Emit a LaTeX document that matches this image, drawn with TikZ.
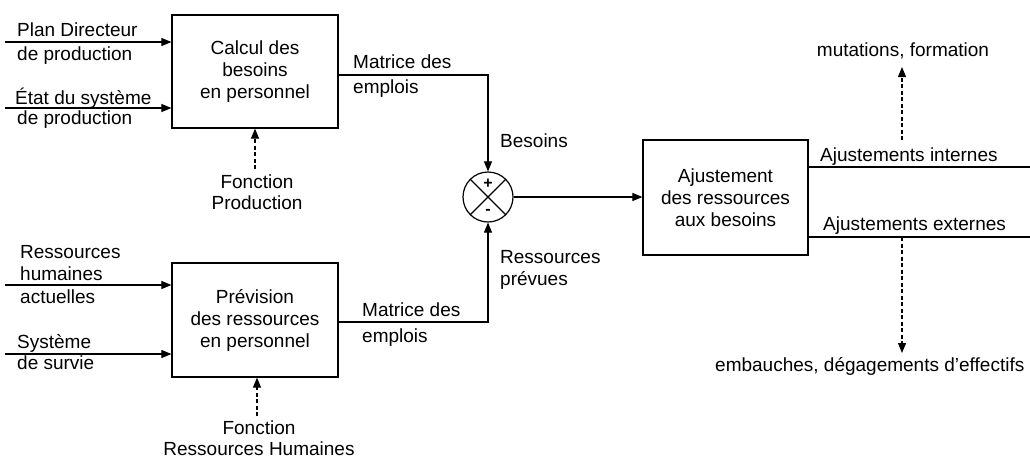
\documentclass[tikz,border=0pt]{standalone}
\usepackage{fontspec}
\setmainfont{Liberation Sans}
\usetikzlibrary{arrows.meta}
\begin{document}
\begin{tikzpicture}[x=1pt,y=-1pt,
  font=\fontsize{19}{22}\selectfont,
  every node/.style={inner sep=0pt},
  procbox/.style={draw, line width=1.2pt, minimum width=166pt, minimum height=113pt, align=center},
  lbl/.style={anchor=base west},
  clbl/.style={anchor=base},
  flow/.style={line width=1.1pt, -{Triangle[length=10pt,width=8pt]}},
  plain/.style={line width=1.1pt},
  dflow/.style={line width=1.1pt, dash pattern=on 4pt off 2.5pt, -{Triangle[length=10pt,width=8pt]}},
  sign/.style={font=\fontsize{16}{16}\selectfont\bfseries},
]
\fill[white] (0,0) rectangle (1030,459);
\useasboundingbox (0,0) rectangle (1030,459);

% boxes
\node[procbox] (calc) at (255,71.5) {Calcul des\\besoins\\en personnel};
\node[procbox, minimum height=114pt] (prev) at (255,320) {Prévision\\des ressources\\en personnel};
\node[procbox, minimum width=165pt, minimum height=115pt] (ajust) at (725.5,197.5) {Ajustement\\des ressources\\aux besoins};
\node[draw, circle, line width=1.2pt, minimum size=50pt] (sum) at (488,197) {};

% inputs of box 1
\coordinate (a1) at (5,42);
\coordinate (a2) at (5,108);
\draw[flow] (a1) -- (a1 -| calc.west);
\draw[flow] (a2) -- (a2 -| calc.west);
\node[lbl] (t1) at (17,36) {Plan Directeur};
\node[lbl] (t2) at (17,60) {de production};
\node[lbl] (t3) at (15,104) {État du système};
\node[lbl] (t4) at (17,124) {de production};

% inputs of box 2
\coordinate (a3) at (5,285);
\coordinate (a4) at (5,354);
\draw[flow] (a3) -- (a3 -| prev.west);
\draw[flow] (a4) -- (a4 -| prev.west);
\node[lbl] (t5) at (20,258) {Ressources};
\node[lbl] (t6) at (20,280) {humaines};
\node[lbl] (t7) at (20,303) {actuelles};
\node[lbl] (t8) at (17,348) {Système};
\node[lbl] (t9) at (17,369) {de survie};

% controls
\node[clbl] (fp1) at (257,188) {Fonction};
\node[clbl] (fp2) at (257,209) {Production};
\coordinate (fp0) at (255,169);
\draw[dflow] (fp0) -- (fp0 |- calc.south);
\node[clbl] (fr1) at (259,434) {Fonction};
\node[clbl] (fr2) at (259,455) {Ressources Humaines};
\coordinate (fr0) at (257,416);
\draw[dflow] (fr0) -- (fr0 |- prev.south);

% outputs to the comparator
\coordinate (k1) at (488,75);
\draw[flow] (calc.east |- k1) -- (k1) -- (sum.north);
\node[lbl] (m1) at (353,68) {Matrice des};
\node[lbl] (m2) at (353,93) {emplois};
\coordinate (k2) at (488,322);
\draw[flow] (prev.east |- k2) -- (k2) -- (sum.south);
\node[lbl] (m3) at (362,316) {Matrice des};
\node[lbl] (m4) at (362,342) {emplois};
\node[lbl] (bes) at (500,147) {Besoins};
\node[lbl] (rp1) at (500,263) {Ressources};
\node[lbl] (rp2) at (500,285) {prévues};

% comparator
\draw[line width=1.1pt] (sum.north east) -- (sum.south west) (sum.north west) -- (sum.south east);
\node[sign] (plus) at (488,184) {+};
\node[sign] (minus) at (488,212) {-};
\draw[flow] (sum.east) -- (sum.east -| ajust.west);

% adjustments
\coordinate (r1) at (1030,167);
\coordinate (r2) at (1030,237);
\draw[plain] (ajust.east |- r1) -- (r1);
\draw[plain] (ajust.east |- r2) -- (r2);
\node[lbl] (ai) at (820,161) {Ajustements internes};
\node[lbl] (ae) at (823,230) {Ajustements externes};

\node[clbl] (mut) at (903,56) {mutations, formation};
\coordinate (u0) at (902,140);
\coordinate (u1) at (902,67);
\draw[dflow] (u0) -- (u1);

\node[lbl] (emb) at (715,371) {embauches, dégagements d’effectifs};
\coordinate (d0) at (902,237);
\coordinate (d1) at (902,353);
\draw[dflow] (d0) -- (d1);
\end{tikzpicture}
\end{document}
